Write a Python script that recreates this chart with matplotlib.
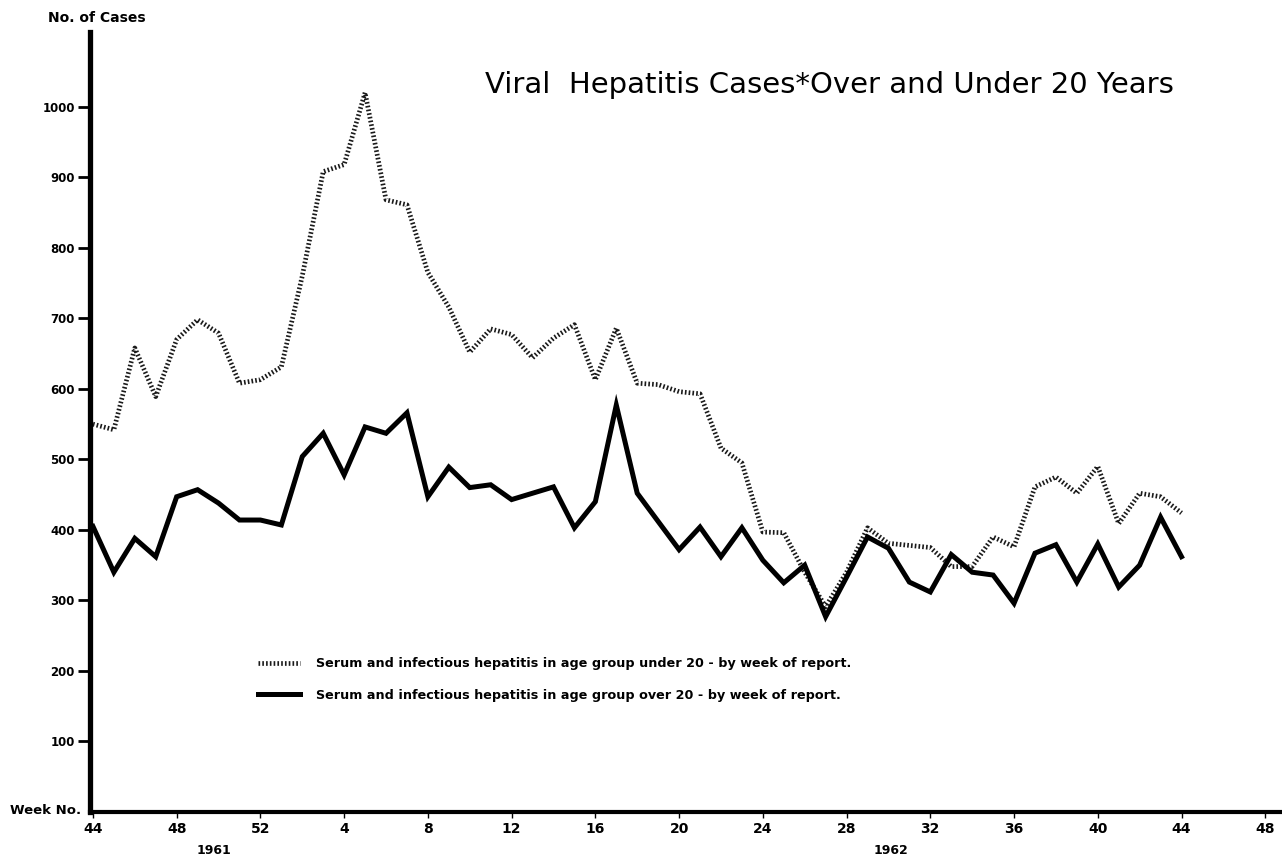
import numpy as np
import matplotlib
matplotlib.use("Agg")
import matplotlib.pyplot as plt
from matplotlib import transforms

# ---------------- data ----------------
week_numbers = list(range(44, 53)) + list(range(1, 45))   # week 44 of 1961 .. week 44 of 1962
under20 = [550, 542, 658, 589, 670, 698, 679, 608, 613, 631, 760, 908, 918, 1020, 868,
           861, 765, 716, 652, 685, 677, 644, 672, 691, 613, 686, 608, 606, 596, 593,
           516, 495, 397, 396, 340, 291, 340, 403, 381, 378, 375, 348, 348, 390, 376,
           461, 475, 452, 490, 409, 452, 447, 424]
over20 = [405, 340, 388, 362, 447, 457, 438, 414, 414, 407, 504, 537, 478, 546, 537,
          566, 447, 489, 460, 464, 443, 452, 461, 403, 440, 577, 452, 412, 372, 404,
          362, 403, 357, 325, 350, 277, 333, 390, 374, 326, 312, 365, 340, 336, 296,
          367, 379, 326, 380, 319, 350, 418, 362]
x_tick_labels = ["44", "48", "52", "4", "8", "12", "16", "20", "24", "28",
                 "32", "36", "40", "44", "48"]
y_ticks = [100, 200, 300, 400, 500, 600, 700, 800, 900, 1000]
label_under = "Serum and infectious hepatitis in age group under 20 - by week of report."
label_over = "Serum and infectious hepatitis in age group over 20 - by week of report."

x = np.arange(len(week_numbers))

W, H = 1282, 858
fig = plt.figure(figsize=(W / 100, H / 100), dpi=100)
ax = fig.add_axes([90 / W, 1 - 812 / H, (W - 90) / W, 780 / H])

ax.plot(x, under20, color="#1a1a1a", lw=3.4, linestyle=(0, (0.35, 0.45)),
        solid_joinstyle="miter", label=label_under)
ax.plot(x, over20, color="black", lw=3.6, solid_joinstyle="miter",
        label=label_over)

ax.set_xlim(-0.14, 56.8)
ax.set_ylim(0, 1106)

for s in ["top", "right"]:
    ax.spines[s].set_visible(False)
ax.spines["left"].set_linewidth(3.8)
ax.spines["bottom"].set_linewidth(3.0)

ax.set_yticks(y_ticks)
ax.set_yticklabels([str(v) for v in y_ticks], fontsize=8.5, fontweight="bold")
ax.tick_params(axis="y", direction="out", length=9, width=2, pad=2)

ax.set_xticks(np.arange(0, 57, 4))
ax.set_xticklabels(x_tick_labels, fontsize=10, fontweight="bold")
ax.tick_params(axis="x", direction="out", length=4, width=1, pad=3)

# year labels
trans = transforms.blended_transform_factory(ax.transData, fig.transFigure)
ax.text(5.8, 1 - 850 / H, "1961", transform=trans, ha="center", va="center",
        fontsize=9, fontweight="bold")
ax.text(38.1, 1 - 850 / H, "1962", transform=trans, ha="center", va="center",
        fontsize=9, fontweight="bold")

fig.text(10 / W, 1 - 810 / H, "Week No.", ha="left", va="center",
         fontsize=9.5, fontweight="bold")
fig.text(48 / W, 1 - 18 / H, "No. of Cases", ha="left", va="center",
         fontsize=10, fontweight="bold")

fig.text(485 / W, 1 - 85 / H, "Viral  Hepatitis Cases*Over and Under 20 Years",
         ha="left", va="center", fontsize=21)

leg = ax.legend(loc="upper left", bbox_to_anchor=(258 / W, 1 - 657 / H),
                bbox_transform=fig.transFigure, frameon=False,
                prop={"size": 9.2, "weight": "bold"}, handlelength=3.3,
                handletextpad=1.2, labelspacing=1.45, borderpad=0, borderaxespad=0)

fig.savefig("out.png", dpi=100, facecolor="white")
